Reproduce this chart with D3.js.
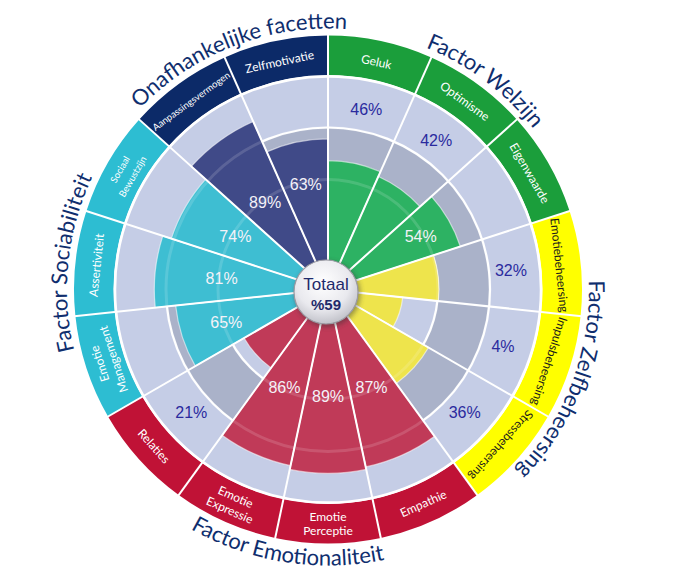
<!DOCTYPE html>
<html><head><meta charset="utf-8">
<script src="https://cdn.jsdelivr.net/npm/d3@7"></script>
<style>html,body{margin:0;padding:0;background:#fff}</style>
</head><body>
<svg id="c" width="676" height="588"></svg>
<script>
// ---------- data ----------
const facets = ["Geluk","Optimisme","Eigenwaarde","Emotiebeheersing","Impulsbeheersing","Stressbeheersing",
  "Empathie","Emotie Perceptie","Emotie Expressie","Relaties","Emotie Management","Assertiviteit",
  "Sociaal Bewustzijn","Aanpassingsvermogen","Zelfmotivatie"];
const scores = [46,42,54,32,4,36,87,89,86,21,65,81,74,89,63];
const facetFactor = [0,0,0,1,1,1,2,2,2,2,3,3,3,4,4];
const factors = ["Factor Welzijn","Factor Zelfbeheersing","Factor Emotionaliteit","Factor Sociabiliteit","Onafhankelijke facetten"];
const totalTitle = "Totaal";
const totalLabel = "%59";

// ---------- layout ----------
const cx = 328, cy = 289.5;
const R_A = 110, R_B = 162, R_C = 213, R_D = 254;
const n = facets.length, step = 2 * Math.PI / n;
const rScale = d3.scaleLinear().domain([0, 100]).range([70, 198]);
const titleShiftDeg = [1, 3, -3, 0, 3];

const bandColor = ["#1b9e3b", "#ffff00", "#c01236", "#2dbdd2", "#0c2a68"];
const barColor  = ["#2db263", "#eee44c", "#c03a58", "#3ebed2", "#404a88"];
const bandText  = ["#ffffff", "#1b1b1b", "#ffffff", "#ffffff", "#ffffff"];
const LAV = "#c5cde6", GRAY = "#aab2c9";

const svg = d3.select("#c");
const defs = svg.append("defs");
const g = svg.append("g").attr("transform", `translate(${cx},${cy})`);
const arc = d3.arc();
const deg = r => r * 180 / Math.PI;
const pt = (a, r) => [r * Math.sin(a), -r * Math.cos(a)];

// background rings
g.append("circle").attr("r", R_C).attr("fill", LAV);
g.append("path").attr("d", arc({innerRadius: R_A, outerRadius: R_B, startAngle: 0, endAngle: 2 * Math.PI})).attr("fill", GRAY);
[R_A, R_B].forEach(r => g.append("circle").attr("r", r).attr("fill", "none").attr("stroke", "#fff").attr("stroke-width", 2.2));

// label band
facets.forEach((f, i) => {
  g.append("path")
    .attr("d", arc({innerRadius: R_C + 1.5, outerRadius: R_D, startAngle: i * step, endAngle: (i + 1) * step}))
    .attr("fill", bandColor[facetFactor[i]]);
});

// bars
facets.forEach((f, i) => {
  g.append("path")
    .attr("d", arc({innerRadius: 0, outerRadius: rScale(scores[i]), startAngle: i * step, endAngle: (i + 1) * step}))
    .attr("fill", barColor[facetFactor[i]])
    .attr("stroke", "#fff").attr("stroke-opacity", 0.55).attr("stroke-width", 1.2);
});
// faint ring highlights over bars
[R_A, R_B].forEach(r => g.append("circle").attr("r", r).attr("fill", "none").attr("stroke", "#fff").attr("stroke-opacity", 0.14).attr("stroke-width", 3));

// white gap before band
g.append("circle").attr("r", R_C).attr("fill", "none").attr("stroke", "#fff").attr("stroke-width", 2.5);

// radial separators
facets.forEach((f, i) => {
  const [x, y] = pt(i * step, R_D + 1);
  g.append("line").attr("x1", 0).attr("y1", 0).attr("x2", x).attr("y2", y)
    .attr("stroke", "#fff").attr("stroke-width", 2);
});

// percentage labels
facets.forEach((f, i) => {
  const a = (i + 0.5) * step, v = scores[i];
  const inside = v >= 50;
  const [x, y] = pt(a, inside ? 107 : 184);
  g.append("text").attr("x", x).attr("y", y)
    .attr("text-anchor", "middle").attr("dominant-baseline", "central")
    .attr("font-family", "'Liberation Sans', Arial, sans-serif").attr("font-size", 16)
    .attr("fill", inside ? "#f4f2f8" : "#2a2a9e")
    .text(v + "%");
});

// band labels
facets.forEach((f, i) => {
  const a = (i + 0.5) * step, ad = deg(a);
  const flip = ad > 144 && ad < 240;
  const rot = flip ? ad - 180 : ad;
  const [x, y] = pt(a, 233.5);
  const lines = f.split(" ");
  const fs = f.length > 17 ? 9.5 : 12;
  const t = g.append("text").attr("transform", `translate(${x},${y}) rotate(${rot})`)
    .attr("text-anchor", "middle").attr("dominant-baseline", "central")
    .attr("font-family", "Lato, 'Open Sans', sans-serif").attr("font-size", fs)
    .attr("fill", bandText[facetFactor[i]]);
  lines.forEach((l, k) => {
    t.append("tspan").attr("x", 0).attr("y", (k - (lines.length - 1) / 2) * 14.5).text(l);
  });
});

// factor titles (curved)
factors.forEach((name, j) => {
  const idx = facetFactor.map((d, i) => d === j ? i : -1).filter(i => i >= 0);
  const c = (d3.mean(idx) + 0.5) * step + titleShiftDeg[j] * Math.PI / 180;
  const cd = deg(c);
  const flip = cd > 150 && cd < 230;
  const R = flip ? 276 : 261;
  const s = c - Math.PI / 2, e = c + Math.PI / 2;
  let d;
  if (!flip) {
    const [x0, y0] = pt(s, R), [x1, y1] = pt(e, R);
    d = `M${x0},${y0} A${R},${R} 0 0 1 ${x1},${y1}`;
  } else {
    const [x0, y0] = pt(e, R), [x1, y1] = pt(s, R);
    d = `M${x0},${y0} A${R},${R} 0 0 0 ${x1},${y1}`;
  }
  defs.append("path").attr("id", "fp" + j).attr("d", d).attr("transform", `translate(${cx},${cy})`);
  svg.append("text")
    .attr("font-family", "Lato, 'Open Sans', sans-serif").attr("font-size", 22)
    .attr("fill", "#0f2e6e")
    .append("textPath").attr("href", "#fp" + j).attr("startOffset", "50%").attr("text-anchor", "middle")
    .text(name);
});

// center "Totaal" bubble
const grad = defs.append("radialGradient").attr("id", "hub").attr("cx", "45%").attr("cy", "35%").attr("r", "70%");
grad.append("stop").attr("offset", "0%").attr("stop-color", "#ffffff");
grad.append("stop").attr("offset", "60%").attr("stop-color", "#e9e9ee");
grad.append("stop").attr("offset", "100%").attr("stop-color", "#b9bac2");
const filt = defs.append("filter").attr("id", "sh").attr("x", "-50%").attr("y", "-50%").attr("width", "200%").attr("height", "200%");
filt.append("feGaussianBlur").attr("stdDeviation", 2.5);
const hub = svg.append("g").attr("transform", `translate(${cx - 2},${cy + 2.5})`);
hub.append("circle").attr("r", 33).attr("cx", 1.5).attr("cy", 2).attr("fill", "#333").attr("opacity", 0.45).attr("filter", "url(#sh)");
hub.append("circle").attr("r", 32).attr("fill", "url(#hub)").attr("stroke", "#9a9aa2").attr("stroke-width", 1.2);
hub.append("text").attr("y", -8).attr("text-anchor", "middle").attr("dominant-baseline", "central")
  .attr("font-family", "'Liberation Sans', Arial, sans-serif").attr("font-size", 17).attr("fill", "#1f2a6b").text(totalTitle);
hub.append("text").attr("y", 12).attr("text-anchor", "middle").attr("dominant-baseline", "central")
  .attr("font-family", "'Liberation Sans', Arial, sans-serif").attr("font-size", 15).attr("font-weight", "bold").attr("fill", "#1f2a6b").text(totalLabel);
</script>
</body></html>
